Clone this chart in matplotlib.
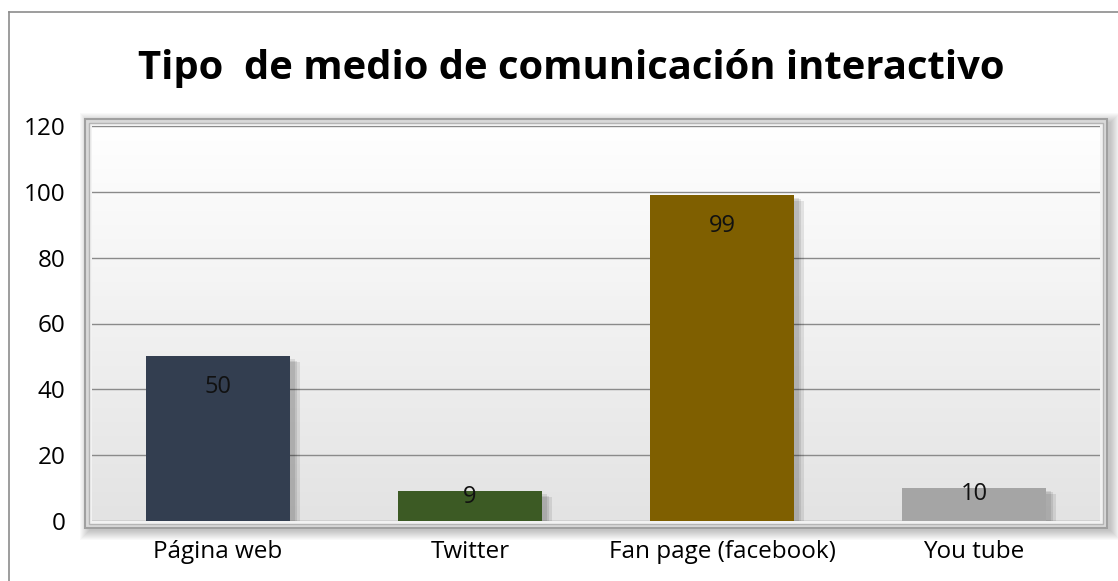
import numpy as np
import matplotlib.pyplot as plt
from matplotlib.patches import Rectangle
from matplotlib.colors import LinearSegmentedColormap
import matplotlib.patheffects as pe

plt.rcParams['font.family'] = ['Open Sans', 'DejaVu Sans']

categories = ['Página web', 'Twitter', 'Fan page (facebook)', 'You tube']
values = [50, 9, 99, 10]
colors = ['#333e50', '#3c5a24', '#7f5f00', '#a5a5a5']
title = 'Tipo  de medio de comunicación interactivo'
y_ticks = [0, 20, 40, 60, 80, 100, 120]

W, H = 1118, 581
fig = plt.figure(figsize=(W / 100, H / 100), dpi=100)

# outer chart border (top and left visible)
fig.add_artist(plt.Line2D([9 / W, 9 / W], [0, 1 - 12 / H], color='#8c8c8c', lw=1.2))
fig.add_artist(plt.Line2D([9 / W, 1], [1 - 12 / H, 1 - 12 / H], color='#8c8c8c', lw=1.2))

# plot area in pixels
x0, x1, y0, y1 = 92, 1100, 126, 521
ax = fig.add_axes([x0 / W, 1 - y1 / H, (x1 - x0) / W, (y1 - y0) / H])
ax.set_zorder(2)

# soft shadow around the plot area
for i in range(10, 0, -1):
    fig.patches.append(Rectangle(((x0 - 6 - i + 4) / W, 1 - (y1 + 6 + i + 3) / H),
                                 (x1 - x0 + 12 + 2 * i) / W, (y1 - y0 + 12 + 2 * i) / H,
                                 transform=fig.transFigure, facecolor='black', edgecolor='none',
                                 alpha=0.025, zorder=0))
# bevel frame
fig.patches.append(Rectangle(((x0 - 7) / W, 1 - (y1 + 7) / H), (x1 - x0 + 14) / W, (y1 - y0 + 14) / H,
                             transform=fig.transFigure, facecolor='#d9d9d9', edgecolor='#a0a0a0',
                             lw=1.5, zorder=0.5))
fig.patches.append(Rectangle(((x0 - 3) / W, 1 - (y1 + 3) / H), (x1 - x0 + 6) / W, (y1 - y0 + 6) / H,
                             transform=fig.transFigure, facecolor='#f2f2f2', edgecolor='#b5b5b5',
                             lw=1.0, zorder=0.6))

# gradient background of the plot area
grad = np.linspace(0, 1, 256).reshape(-1, 1)
ax.imshow(grad, extent=(-0.5, 3.5, 0, 120), aspect='auto', origin='lower',
          cmap=LinearSegmentedColormap.from_list('bg', ['#e3e3e3', '#ffffff']), zorder=0)

x = np.arange(len(categories))
shadow = [pe.SimplePatchShadow(offset=(o, -o * 0.6), shadow_rgbFace='black', alpha=0.09)
          for o in (7, 5, 3)]
ax.bar(x, values, width=0.575, color=colors, zorder=3, path_effects=shadow + [pe.Normal()])

for xi, v in zip(x, values):
    drop = -31 if v > 25 else -6
    ax.annotate(str(v), (xi, v), xytext=(0, drop), textcoords='offset pixels',
                ha='center', va='center', fontsize=17, color='#111111', zorder=4)

ax.set_xlim(-0.5, 3.5)
ax.set_ylim(0, 120)
ax.set_yticks(y_ticks)
ax.set_xticks(x)
ax.set_xticklabels(categories)
ax.tick_params(axis='both', length=0, labelsize=17.5, colors='black')
ax.tick_params(axis='x', pad=14)
ax.tick_params(axis='y', pad=19)
ax.yaxis.grid(True, color='#8a8a8a', linewidth=1.0, zorder=1)
ax.set_axisbelow(True)
for s in ax.spines.values():
    s.set_visible(False)
ax.patch.set_alpha(0)

fig.text(0.511, 1 - 68 / H, title, ha='center', va='center', fontsize=28.8, fontweight='bold')

fig.savefig('out.png', dpi=100)
